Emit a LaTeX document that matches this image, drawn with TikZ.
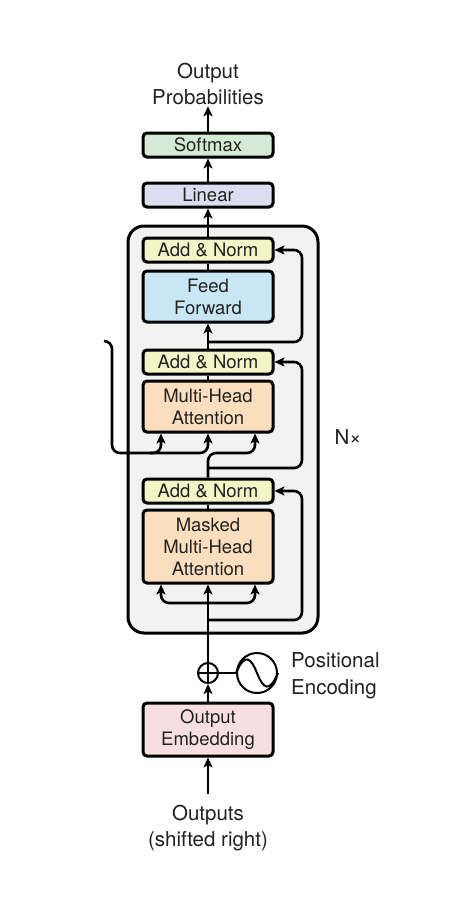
\documentclass[tikz,border=0pt]{standalone}
\usepackage{fontspec}
\setmainfont{TeX Gyre Heros}
\usetikzlibrary{arrows.meta}
\definecolor{normc}{HTML}{F2F5C6}
\definecolor{ffc}{HTML}{C8E6F4}
\definecolor{attc}{HTML}{FBDEBD}
\definecolor{embc}{HTML}{F7DEE1}
\definecolor{linc}{HTML}{DCDEF0}
\definecolor{softc}{HTML}{D4EAD4}
\definecolor{stackc}{HTML}{F2F2F2}
\definecolor{txtc}{HTML}{222222}

\begin{document}
\begin{tikzpicture}[x=1pt, y=-1pt,
	blk/.style={draw, line width=3pt, rounded corners=4pt, minimum width=130pt, align=center, text=txtc, font=\fontsize{18.5}{22}\selectfont, inner sep=0pt},
	lbl/.style={align=center, text=txtc, font=\fontsize{20.5}{26.5}\selectfont, inner sep=1pt},
	arr/.style={line width=2.6pt, -{Stealth[length=10pt, width=9pt, inset=2.5pt]}},
	ln/.style={line width=2.6pt},
	rnd/.style={rounded corners=8pt}]
	\useasboundingbox[fill=white] (0, 0) rectangle (454, 906); %枠

	\node[draw, line width=3pt, rounded corners=16pt, fill=stackc, minimum width=190pt, minimum height=407pt] (stack) at (223, 429.5) {}; %N回の層

	\node[lbl] (prob) at (208, 84) {Output\\Probabilities};
	\node[blk, fill=softc, minimum height=24pt] (softmax) at (208, 145) {Softmax};
	\node[blk, fill=linc, minimum height=24pt] (linear) at (208, 195) {Linear};
	\node[blk, fill=normc, minimum height=24pt] (normA) at (208, 250) {Add \& Norm};
	\node[blk, fill=ffc, minimum height=51pt] (ffn) at (208, 296.5) {Feed\\Forward};
	\node[blk, fill=normc, minimum height=24pt] (normB) at (208, 362) {Add \& Norm};
	\node[blk, fill=attc, minimum height=51pt] (mha) at (208, 406.5) {Multi-Head\\Attention};
	\node[blk, fill=normc, minimum height=24pt] (normC) at (208, 491) {Add \& Norm};
	\node[blk, fill=attc, minimum height=73pt] (mmha) at (208, 546.5) {Masked\\Multi-Head\\Attention};
	\node[blk, fill=embc, minimum height=53pt] (emb) at (208, 729.5) {Output\\Embedding};
	\node[lbl] (nx) at (348, 437) {N×};

	\node[draw, circle, line width=2pt, minimum size=20pt, inner sep=0pt, fill=white,
		path picture={\draw[line width=1.8pt] (path picture bounding box.north) -- (path picture bounding box.south)
			(path picture bounding box.west) -- (path picture bounding box.east);}] (plus) at (208, 673) {}; %加算
	\node[draw, circle, line width=2pt, minimum size=40pt, inner sep=0pt, fill=white] (pe) at (257, 673) {}; %正弦波
	\draw[line width=2pt] (pe.west) .. controls (245, 652) and (251, 658) .. (pe.center)
		.. controls (263, 688) and (269, 694) .. (pe.east);
	\node[lbl, anchor=west, align=left] (pelbl) at (290, 676) {Positional\\Encoding};
	\node[lbl] (outs) at (208, 828) {Outputs\\(shifted right)};

	\coordinate (outsTop) at (208, 794);
	\coordinate (enc) at (104, 341); %エンコーダ出力
	\coordinate (resA) at (208, 342);
	\coordinate (resB) at (208, 468);
	\coordinate (resC) at (208, 620);
	\coordinate (splitM) at (208, 603);

	\draw[arr] (outsTop) -- (emb.south);
	\draw[arr] (emb.north) -- (plus.south);
	\draw[ln] (plus.east) -- (pe.west);
	\draw[arr] (plus.north) -- (mmha.south);
	\draw[arr, rnd] (splitM) -- (161, 603) -- (mmha.south -| 161, 0); %左
	\draw[arr, rnd] (splitM) -- (255, 603) -- (mmha.south -| 255, 0); %右
	\draw[arr, rnd] (resC) -- (302, 620) -- (302, 491) -- (normC.east);
	\draw[ln] (mmha.north) -- (normC.south);

	\draw[arr, rnd] (normC.north) -- (208, 453) -- (255, 453) -- (mha.south -| 255, 0);
	\draw[arr, rnd] (resB) -- (302, 468) -- (302, 362) -- (normB.east);
	\draw[arr, rnd] (enc) -- (112, 341) -- (112, 453) -- (208, 453) -- (mha.south);
	\draw[arr, rnd] (150, 453) -- (161, 453) -- (mha.south -| 161, 0);
	\draw[ln] (mha.north) -- (normB.south);

	\draw[arr] (normB.north) -- (ffn.south);
	\draw[arr, rnd] (resA) -- (302, 342) -- (302, 250) -- (normA.east);
	\draw[ln] (ffn.north) -- (normA.south);

	\draw[arr] (normA.north) -- (linear.south);
	\draw[arr] (linear.north) -- (softmax.south);
	\draw[arr] (softmax.north) -- (prob.south);
\end{tikzpicture}
\end{document}
